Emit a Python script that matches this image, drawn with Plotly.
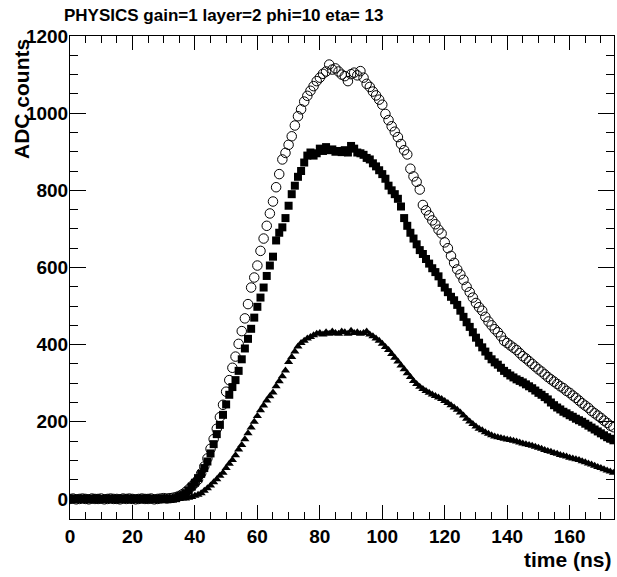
import plotly.graph_objects as go

# sampling times (ns)
time_ns = list(range(0, 175))

# open circles
adc_circle = [
    0, 1, -1, 0, 1, 0, -1, 1, 0, 0, 1, -1, 0, 1, 0, 0, -1, 1, 0, 1,
    0, -1, 0, 1, 0, 0, 1, -1, 0, 1, 2, 1, 2, 3, 5, 8, 12, 18, 25, 33,
    41, 50, 66, 84, 105, 130, 155, 182, 212, 244, 278, 308, 340, 369, 402, 435, 468, 505, 548, 574,
    605, 643, 675, 708, 740, 771, 808, 842, 880, 897, 918, 940, 968, 992, 1010, 1030, 1045, 1058, 1070, 1083,
    1092, 1102, 1108, 1126, 1113, 1116, 1108, 1100, 1096, 1083, 1101, 1105, 1098, 1109, 1092, 1076, 1068, 1056, 1046, 1035,
    1022, 998, 982, 966, 952, 938, 920, 904, 893, 856, 836, 822, 802, 762, 748, 735, 722, 712, 698, 688,
    665, 650, 630, 612, 595, 582, 568, 550, 536, 522, 508, 497, 488, 472, 460, 450, 440, 432, 422, 410,
    404, 398, 392, 386, 378, 370, 364, 357, 350, 343, 336, 330, 323, 316, 310, 304, 298, 292, 287, 280,
    275, 268, 262, 255, 248, 242, 236, 228, 222, 216, 210, 203, 197, 190, 186,
]

# filled squares
adc_square = [
    0, -1, 1, 0, 0, 1, -1, 0, 1, 0, -1, 0, 1, 0, 0, -1, 1, 0, 0, 1,
    -1, 0, 1, 0, 0, 1, 0, -1, 0, 1, 0, 1, 0, 1, 2, 5, 9, 14, 22, 32,
    42, 54, 65, 80, 97, 118, 142, 168, 192, 218, 245, 270, 290, 308, 332, 362, 390, 415, 441, 470,
    498, 522, 548, 578, 605, 628, 670, 690, 704, 728, 760, 790, 812, 835, 850, 872, 890, 898, 890, 896,
    908, 902, 912, 904, 906, 900, 902, 899, 904, 898, 915, 908, 898, 896, 892, 884, 880, 870, 862, 852,
    842, 830, 812, 800, 790, 778, 758, 728, 708, 690, 675, 660, 645, 635, 622, 610, 598, 588, 577, 560,
    548, 536, 524, 515, 503, 488, 472, 458, 446, 432, 418, 405, 393, 382, 371, 362, 354, 348, 340, 332,
    326, 320, 315, 310, 306, 302, 297, 292, 287, 281, 275, 270, 264, 258, 250, 243, 237, 232, 226, 222,
    217, 213, 208, 204, 200, 195, 190, 185, 180, 175, 170, 165, 160, 156, 152,
]

# filled triangles
adc_triangle = [
    0, 1, 0, -1, 0, 1, 0, 0, -1, 1, 0, 0, 1, -1, 0, 0, 1, 0, -1, 0,
    1, 0, 0, -1, 1, 0, 0, 1, 0, -1, 0, 1, 0, 0, 1, 0, 1, 1, 3, 5,
    8, 11, 15, 21, 28, 35, 43, 51, 60, 68, 80, 91, 101, 113, 128, 140, 155, 170, 185, 200,
    215, 230, 242, 255, 266, 276, 292, 305, 318, 333, 355, 368, 382, 395, 404, 410, 416, 420, 424, 428,
    430, 426, 432, 428, 434, 430, 428, 434, 432, 428, 436, 430, 432, 428, 430, 434, 426, 422, 416, 410,
    402, 394, 386, 376, 366, 356, 346, 336, 326, 316, 306, 298, 291, 285, 280, 275, 271, 267, 263, 259,
    254, 249, 243, 237, 231, 224, 216, 208, 201, 194, 188, 182, 178, 173, 169, 165, 162, 160, 158, 156,
    154, 153, 151, 149, 146, 144, 142, 140, 138, 135, 133, 130, 127, 124, 122, 119, 117, 114, 112, 110,
    107, 105, 103, 101, 98, 95, 92, 89, 86, 83, 80, 77, 74, 71, 68,
]

title_text = "PHYSICS gain=1 layer=2 phi=10 eta= 13"
x_title = "time (ns)"
y_title = "ADC counts"

FONT = "Liberation Sans"

fig = go.Figure()
fig.add_trace(go.Scatter(x=time_ns, y=adc_circle, mode="markers",
                         marker=dict(symbol="circle-open", size=9.5, color="black",
                                     line=dict(width=1, color="black"))))
fig.add_trace(go.Scatter(x=time_ns, y=adc_square, mode="markers",
                         marker=dict(symbol="square", size=8, color="black")))
fig.add_trace(go.Scatter(x=time_ns, y=adc_triangle, mode="markers",
                         marker=dict(symbol="triangle-up", size=8, color="black")))

L, R, T, B = 70, 3, 36, 58
W, H = 617, 577
pw, ph = W - L - R, H - T - B

def px_x(p):
    return (p - L) / pw

def px_y(p):
    return (H - B - p) / ph

tickfont = dict(family=FONT, size=19, color="black", weight="bold")

fig.update_layout(
    width=W, height=H,
    margin=dict(l=L, r=R, t=T, b=B, pad=0),
    paper_bgcolor="white", plot_bgcolor="white",
    showlegend=False,
    xaxis=dict(range=[0, 174.2], showgrid=False, zeroline=False,
               showline=True, linecolor="black", linewidth=1, mirror="ticks",
               ticks="inside", ticklen=14, tickwidth=1, tickcolor="black",
               dtick=20, tick0=0, tickfont=tickfont,
               minor=dict(ticks="inside", ticklen=7, dtick=5, tickcolor="black", showgrid=False)),
    yaxis=dict(range=[-52, 1200], showgrid=False, zeroline=False,
               showline=True, linecolor="black", linewidth=1, mirror="ticks",
               ticks="inside", ticklen=16, tickwidth=1, tickcolor="black",
               dtick=200, tick0=0, tickfont=tickfont, ticklabelstandoff=-3,
               minor=dict(ticks="inside", ticklen=8, dtick=50, tickcolor="black", showgrid=False)),
    annotations=[
        dict(text=title_text, xref="paper", yref="paper", x=px_x(62), y=px_y(15),
             xanchor="left", yanchor="middle", showarrow=False,
             font=dict(family=FONT, size=17, color="black", weight="bold")),
        dict(text=y_title, xref="paper", yref="paper", x=px_x(21), y=px_y(37),
             xanchor="center", yanchor="top", textangle=-90, showarrow=False,
             font=dict(family=FONT, size=21, color="black", weight="bold")),
        dict(text=x_title, xref="paper", yref="paper", x=px_x(614), y=px_y(559),
             xanchor="right", yanchor="middle", showarrow=False,
             font=dict(family=FONT, size=21, color="black", weight="bold")),
    ],
)

fig.write_html("out.html", config=dict(displayModeBar=False))
